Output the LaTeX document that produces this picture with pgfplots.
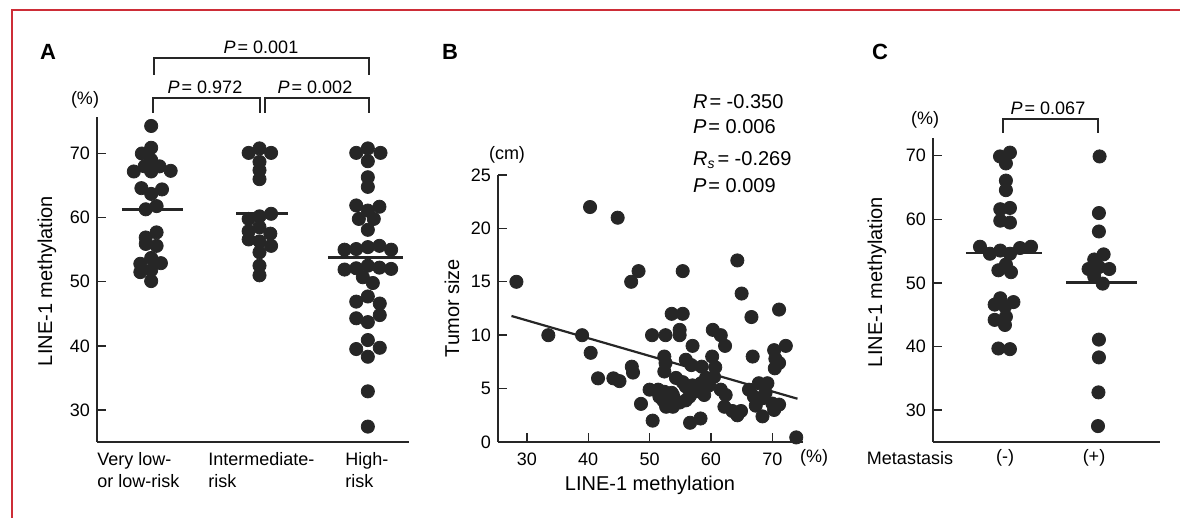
\documentclass[border=0pt]{standalone}
\usepackage{fontspec}
\setmainfont{Liberation Sans}
\usepackage{pgfplots}
\pgfplotsset{compat=1.18}
\definecolor{dot}{RGB}{38,38,38}
\definecolor{framered}{RGB}{205,45,55}

\newcommand{\fs}{\fontsize{9}{11}\selectfont}
\newcommand{\fl}{\fontsize{10}{12}\selectfont}

\pgfplotsset{
  panel/.style={scale only axis, anchor=south west, clip=false,
    axis lines=left, axis line style={-, line width=0.7pt, black!85},
    tick style={line width=0.7pt, black!85},
    tick align=inside, major tick length=4.5pt,
    tick label style={font=\fs},
    /pgf/number format/assume math mode=true},
  dots/.style={only marks, mark=*, mark size=3.3pt, color=dot,
    mark options={fill=dot, draw=dot}},
  med/.style={no marks, line width=1.3pt, black!85}
}

\begin{document}
\begin{tikzpicture}
\path[use as bounding box] (0pt,0pt) rectangle (590pt,259pt);
\draw[framered, line width=0.8pt] (6pt,0pt) -- (6pt,254pt) -- (590pt,254pt);

% ---------- A: LINE-1 methylation by risk group
\begin{axis}[panel, at={(48.5pt,38pt)}, width=156pt, height=162.5pt,
    xmin=0.5, xmax=3.38, ymin=25, ymax=75.7,
    xtick=\empty, ytick={30,40,50,60,70}]
  \addplot[dots] coordinates {
    (1,74.3) (1,70.9) (0.914,70.0) (1,69.0) (0.94,68.0) (1.077,68.0)
    (0.84,67.2) (1,67.2) (1.18,67.3) (0.91,64.6) (1.1,64.4) (1.0,63.7)
    (1.05,61.8) (0.95,61.3) (1.05,57.7) (0.95,56.9) (1.05,55.6) (0.95,55.9)
    (1,53.7) (0.9,52.8) (1.09,52.9) (0.9,51.5) (1,51.8) (1,50.1)};
  \addplot[dots] coordinates {
    (1.9,70.1) (2,70.8) (2.107,70.1) (2,68.7) (2,67.4) (2,66.0)
    (1.9,59.8) (2,60.2) (2.107,60.6) (2,58.5) (1.9,57.9) (2.1,57.5)
    (1.9,56.6) (2,56.3) (2.107,55.6) (2,54.6) (2,52.5) (2,51.0)};
  \addplot[dots] coordinates {
    (2.893,70.1) (3,70.8) (3.117,70.1) (3,68.8) (3,66.3) (3,64.8)
    (2.893,61.9) (3,61.1) (3.107,61.7) (2.917,59.8) (3.055,59.8) (3,58.1)
    (2.785,55.0) (2.893,55.1) (3,55.4) (3.107,55.6) (3.215,55.0)
    (2.785,51.9) (2.893,52.1) (3,52.5) (3.107,52.2) (3.215,52.0)
    (2.954,50.7) (3.046,49.8)
    (3,47.7) (2.893,46.9) (3.11,46.6)
    (2.893,44.3) (3,43.7) (3.11,44.8)
    (3,40.9) (2.893,39.5) (3.11,39.7) (3,38.3)
    (3,32.9) (3,27.4)};
  \addplot[med] coordinates {(0.73,61.3) (1.29,61.3)};
  \addplot[med] coordinates {(1.785,60.6) (2.26,60.6)};
  \addplot[med] coordinates {(2.63,53.8) (3.32,53.8)};
\end{axis}

% ---------- B: tumor size vs LINE-1 methylation
\begin{axis}[panel, at={(249pt,38pt)}, width=152.5pt, height=133.5pt,
    xmin=25.3, xmax=75, ymin=0, ymax=25,
    xtick={30,40,50,60,70}, ytick={0,5,10,15,20,25},
    xticklabel style={yshift=-2pt}]
  \addplot[dots] coordinates {
    (40.3,22.0) (44.8,21.0)
    (28.3,15.0) (33.5,10.0) (39.0,10.0) (40.4,8.35) (41.6,5.96) (44.1,5.96)
    (45.1,5.7) (47.0,15.0) (48.2,16.0) (47.1,7.05) (47.3,6.5) (48.6,3.57)
    (50.4,10.0) (50.5,2.0) (52.6,10.0) (53.6,12.0) (55.4,12.0) (55.4,16.0)
    (54.9,10.5) (54.9,10.0) (52.4,8.0) (52.6,7.4) (52.4,6.6) (50.0,4.9)
    (51.4,4.9) (51.6,4.25) (52.4,4.7) (53.0,3.6) (53.8,4.4) (52.7,3.3)
    (54.3,6.0) (55.4,5.6) (55.9,7.7) (57.0,9.0) (56.8,7.2) (55.9,5.2)
    (56.5,4.25) (54.9,3.7) (55.9,3.9) (57.3,4.7) (58.4,5.5) (58.9,4.4)
    (58.5,7.05) (56.6,1.8) (58.3,2.2) (59.2,6.0) (60.2,8.0) (60.3,10.5)
    (61.6,10.0) (62.3,9.0) (60.7,7.0) (60.5,6.1) (61.6,4.9) (62.4,4.4)
    (62.2,3.3) (63.5,2.9) (64.3,2.5) (64.9,2.9) (64.3,17.0) (65.0,13.9)
    (66.6,11.7) (66.8,8.0) (66.2,4.9) (67.0,4.25) (67.8,5.5) (69.2,5.5)
    (68.4,4.1) (67.3,3.4) (68.4,2.4) (68.9,4.6) (70.0,3.6) (70.3,3.0)
    (71.1,3.5) (70.3,8.6) (70.5,7.8) (71.1,7.4) (70.4,6.9) (71.1,12.4)
    (72.2,9.0) (73.9,0.43) (59.7,5.3) (57.0,5.3) (53.6,4.6) (52.2,3.9)
    (53.8,3.3)};
  \addplot[no marks, line width=1.1pt, black!85] coordinates {(27.5,11.8) (74.1,4.05)};
\end{axis}

% ---------- C: LINE-1 methylation by metastasis
\begin{axis}[panel, at={(466.5pt,38pt)}, width=113.5pt, height=152pt,
    xmin=0.234, xmax=2.65, ymin=25, ymax=72.8,
    xtick=\empty, ytick={30,40,50,60,70}]
  \addplot[dots] coordinates {
    (1.053,70.5) (0.947,69.9) (1.01,68.8) (1.01,66.1) (1.01,64.6)
    (0.95,61.6) (1.053,61.8) (0.95,59.8) (1.053,59.5)
    (0.734,55.7) (0.84,54.6) (0.95,55.1) (1.053,54.6) (1.16,55.5) (1.277,55.7)
    (1.01,52.9) (0.93,52.0) (1.064,51.7)
    (0.95,47.6) (1.09,47.0) (0.89,46.6) (1,46.3) (0.89,44.2) (1.01,44.7)
    (1,43.4) (0.93,39.7) (1.053,39.6)};
  \addplot[dots] coordinates {
    (2.007,69.9) (2,61.0) (2,58.1) (2.05,54.5) (1.95,53.7) (1.89,52.2)
    (2,52.5) (2.11,52.2) (1.95,51.0) (2.04,49.9) (2,41.1) (2,38.3)
    (1.995,32.8) (1.99,27.5)};
  \addplot[med] coordinates {(0.585,54.7) (1.39,54.7)};
  \addplot[med] coordinates {(1.65,50.1) (2.4,50.1)};
\end{axis}

\begin{scope}[x=1pt,y=1pt]
% A annotations
\node[font=\fontsize{11}{12}\selectfont\bfseries] at (24,233) {A};
\node[font=\fs] at (42.5,209) {(\%)};
\node[font=\fl, rotate=90] at (23.5,118.5) {LINE-1 methylation};
\node[font=\fs, align=left, anchor=north west, inner sep=0pt] at (48.5,33) {Very low-\\or low-risk};
\node[font=\fs, align=left, anchor=north west, inner sep=0pt] at (104,33) {Intermediate-\\risk};
\node[font=\fs, align=left, anchor=north west, inner sep=0pt] at (172.5,33) {High-\\risk};
\draw[line width=0.6pt, black!85] (77,221.5) -- (77,230) -- (184.5,230) -- (184.5,221.5);
\draw[line width=0.6pt, black!85] (76.5,202.5) -- (76.5,210) -- (130,210) -- (130,202.5);
\draw[line width=0.6pt, black!85] (132.5,202.5) -- (132.5,210) -- (184.5,210) -- (184.5,202.5);
\node[font=\fs] at (130.5,235.5) {\textit{P}\kern1pt= 0.001};
\node[font=\fs] at (102.5,215.5) {\textit{P}\kern1pt= 0.972};
\node[font=\fs] at (157.5,215.5) {\textit{P}\kern1pt= 0.002};
% B annotations
\node[font=\fontsize{11}{12}\selectfont\bfseries] at (225,233) {B};
\node[font=\fs] at (253.5,181.5) {(cm)};
\node[font=\fl, rotate=90] at (226,105) {Tumor size};
\node[font=\fl] at (325,16.5) {LINE-1 methylation};
\node[font=\fs] at (407,30) {(\%)};
\node[font=\fl, anchor=west] at (343,208) {\textit{R}\kern1pt= -0.350};
\node[font=\fl, anchor=west] at (343,195.5) {\textit{P}\kern1pt= 0.006};
\node[font=\fl, anchor=west] at (343,179) {\textit{R\textsubscript{s}}\kern1pt= -0.269};
\node[font=\fl, anchor=west] at (343,166) {\textit{P}\kern1pt= 0.009};
% C annotations
\node[font=\fontsize{11}{12}\selectfont\bfseries] at (440,233) {C};
\node[font=\fs] at (462.5,199) {(\%)};
\node[font=\fl, rotate=90] at (438.5,118) {LINE-1 methylation};
\node[font=\fs] at (455,30) {Metastasis};
\node[font=\fs] at (502.5,30) {(-)};
\node[font=\fs] at (547,30) {(+)};
\draw[line width=0.6pt, black!85] (501.5,192.5) -- (501.5,199.5) -- (549,199.5) -- (549,192.5);
\node[font=\fs] at (524,205) {\textit{P}\kern1pt= 0.067};
\end{scope}
\end{tikzpicture}
\end{document}
